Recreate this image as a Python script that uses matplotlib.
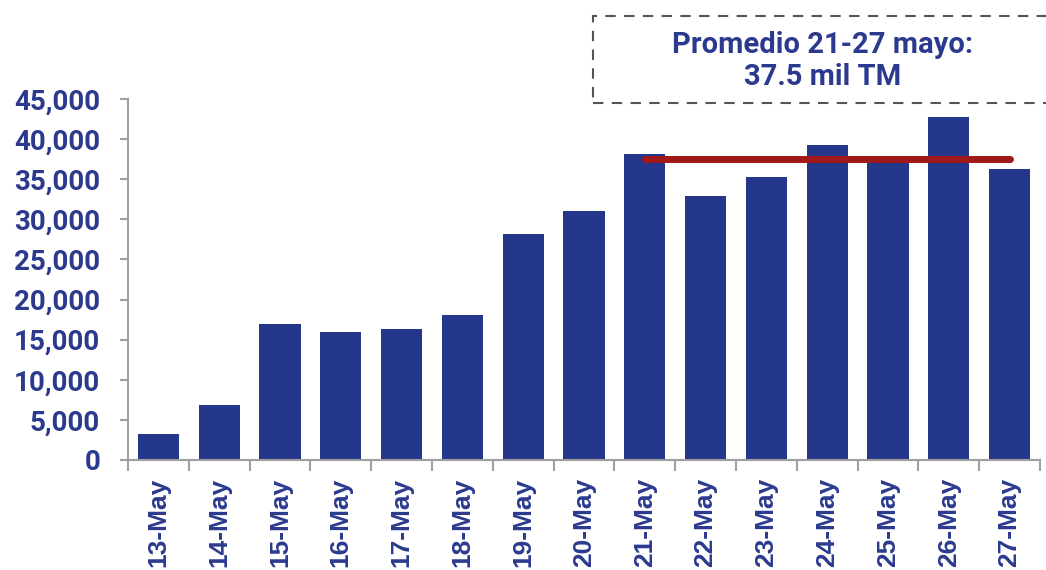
import matplotlib
matplotlib.use("Agg")
import matplotlib.pyplot as plt
from matplotlib.patches import Rectangle
from matplotlib.ticker import FuncFormatter

categories = ["13-May", "14-May", "15-May", "16-May", "17-May", "18-May", "19-May",
              "20-May", "21-May", "22-May", "23-May", "24-May", "25-May", "26-May", "27-May"]
values = [3200, 6900, 17000, 16000, 16300, 18100, 28200, 31100,
          38100, 32900, 35300, 39300, 37300, 42800, 36300]
avg_value = 37500
avg_start, avg_end = "21-May", "27-May"
yticks = list(range(0, 45001, 5000))
box_text = "Promedio 21-27 mayo:\n37.5 mil TM"

BAR = "#24378a"
TXT = "#2b3a8e"
RED = "#a01818"
GRAY = "#a0a0a0"

W, H = 1046, 570
fig = plt.figure(figsize=(W / 100, H / 100), dpi=100)
ax = fig.add_axes([128 / W, 1 - 460 / H, (1040 - 128) / W, (460 - 99) / H])

x = list(range(len(categories)))
ax.bar(x, values, width=0.68, color=BAR, zorder=2)
i0, i1 = categories.index(avg_start), categories.index(avg_end)
ax.plot([i0, i1], [avg_value, avg_value], color=RED, lw=5, solid_capstyle="round", zorder=3)

ax.set_xlim(-0.5, len(categories) - 0.5)
ax.set_ylim(0, 45000)
ax.set_yticks(yticks)
ax.yaxis.set_major_formatter(FuncFormatter(lambda v, p: f"{int(v):,}"))
ax.set_xticks([i - 0.5 for i in range(len(categories) + 1)])
ax.set_xticklabels([])
ax.set_xticks(x, minor=True)
ax.set_xticklabels(categories, minor=True, rotation=90, fontsize=19,
                   fontweight="bold", color=TXT, family="Liberation Sans")
ax.tick_params(axis="x", which="minor", length=0, pad=13)
ax.tick_params(axis="x", which="major", length=8, width=1.5, color=GRAY, direction="out")
ax.tick_params(axis="y", length=6, width=1.5, color=GRAY, pad=14, labelsize=20,
               labelcolor=TXT)
for lab in ax.get_yticklabels():
    lab.set_fontweight("bold")
    lab.set_family("Roboto")

for s in ["top", "right"]:
    ax.spines[s].set_visible(False)
for s in ["left", "bottom"]:
    ax.spines[s].set_color(GRAY)
    ax.spines[s].set_linewidth(1.5)

rect = Rectangle((593 / W, 1 - 103 / H), (1070 - 593) / W, (103 - 16) / H,
                 transform=fig.transFigure, fill=False, edgecolor="#555555",
                 linestyle=(0, (5, 4)), linewidth=1.5, clip_on=False)
fig.patches.append(rect)
fig.text(823 / W, 1 - 61 / H, box_text, ha="center", va="center", fontsize=21,
         fontweight="bold", color=TXT, family="Roboto", linespacing=1.2)

fig.savefig("out.png", dpi=100)
